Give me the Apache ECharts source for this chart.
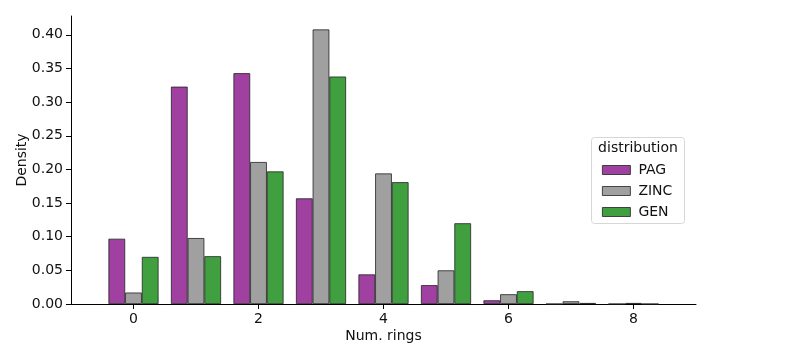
<!DOCTYPE html>
<html lang="en">
<head>
    <meta charset="UTF-8">
    <title>Num. rings</title>
    <style type="text/css">
        *{
            margin: 0px;
            padding: 0px;
        }
        #chart{
            width: 812px;
            height: 360px;
        }
    </style>
</head>
<body>
<div id="chart"></div>
<script src="https://cdn.jsdelivr.net/npm/echarts@6/dist/echarts.min.js"></script>
<script type="text/javascript">
  var rings = [0, 1, 2, 3, 4, 5, 6, 7, 8];
  var pag  = [0.097, 0.323, 0.343, 0.157, 0.044, 0.028, 0.0055, 0, 0];
  var zinc = [0.017, 0.098, 0.211, 0.408, 0.194, 0.050, 0.0145, 0.004, 0.0015];
  var gen  = [0.070, 0.071, 0.197, 0.338, 0.181, 0.120, 0.019, 0.0015, 0];
  var xTicks = [0, 2, 4, 6, 8];
  var yTicks = [0, 0.05, 0.10, 0.15, 0.20, 0.25, 0.30, 0.35, 0.40];

  var font = 'DejaVu Sans';
  var ink = '#111';
  var myChart = echarts.init(document.getElementById('chart'));

  function pairs(vals) {
    var out = [];
    for (var i = 0; i < rings.length; i++) {
      out.push([rings[i], vals[i]]);
    }
    return out;
  }

  function barSeries(name, vals, color) {
    return {
      name: name,
      type: 'bar',
      data: pairs(vals),
      barWidth: 16.7,
      barGap: '0%',
      itemStyle: {
        color: color,
        borderColor: '#222',
        borderWidth: 0.8
      },
      emphasis: { disabled: true }
    };
  }

  myChart.setOption({
    animation: false,
    grid: { left: 71, right: 116, top: 16, bottom: 56 },
    legend: {
      orient: 'vertical',
      left: 597,
      top: 158,
      itemWidth: 28,
      itemHeight: 9,
      itemGap: 7,
      icon: 'rect',
      data: ['PAG', 'ZINC', 'GEN'],
      itemStyle: { borderColor: '#222', borderWidth: 0.8 },
      textStyle: { fontFamily: font, fontSize: 14, color: ink, padding: [0, 0, 0, 3] }
    },
    graphic: [{
      type: 'rect',
      shape: { x: 591.5, y: 137.5, width: 93, height: 86, r: 3 },
      style: { fill: 'rgba(255,255,255,0.8)', stroke: '#d6d6d6', lineWidth: 1 },
      z: -1
    }, {
      type: 'text',
      x: 638,
      y: 148,
      style: {
        text: 'distribution',
        fontFamily: font,
        fontSize: 14,
        fill: ink,
        textAlign: 'center',
        textVerticalAlign: 'middle'
      }
    }],
    xAxis: {
      type: 'value',
      min: -1,
      max: 9,
      name: 'Num. rings',
      nameLocation: 'middle',
      nameGap: 25,
      nameMoveOverlap: false,
      nameTextStyle: { fontFamily: font, fontSize: 14, color: ink },
      splitLine: { show: false },
      axisLine: { show: true, onZero: false, lineStyle: { color: '#000', width: 1 } },
      axisTick: { show: true, length: 5, customValues: xTicks, lineStyle: { color: '#000' } },
      axisLabel: { customValues: xTicks, margin: 8, fontFamily: font, fontSize: 14, color: ink }
    },
    yAxis: {
      type: 'value',
      min: 0,
      max: 0.428,
      name: 'Density',
      nameLocation: 'middle',
      nameGap: 42,
      nameMoveOverlap: false,
      nameTextStyle: { fontFamily: font, fontSize: 14, color: ink },
      splitLine: { show: false },
      axisLine: { show: true, onZero: false, lineStyle: { color: '#000', width: 1 } },
      axisTick: { show: true, length: 5, customValues: yTicks, lineStyle: { color: '#000' } },
      axisLabel: {
        customValues: yTicks,
        margin: 8,
        fontFamily: font,
        fontSize: 14,
        color: ink,
        formatter: function (v) { return v.toFixed(2); }
      }
    },
    series: [
      barSeries('PAG', pag, '#a040a0'),
      barSeries('ZINC', zinc, '#a0a0a0'),
      barSeries('GEN', gen, '#40a040')
    ]
  });
</script>
</body>
</html>
